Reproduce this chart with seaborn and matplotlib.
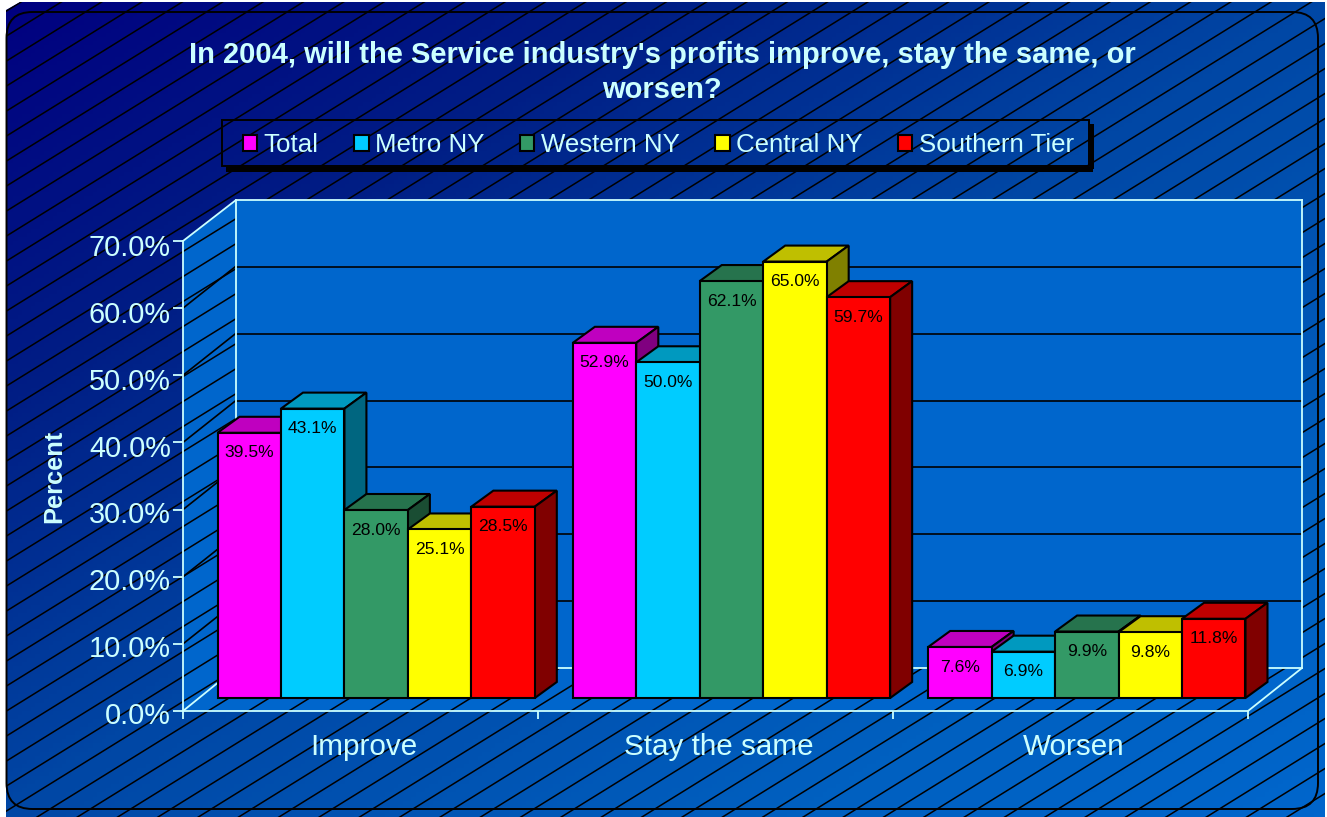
import numpy as np
import pandas as pd
import matplotlib
matplotlib.use('Agg')
import matplotlib.pyplot as plt
from matplotlib.colors import LinearSegmentedColormap, to_rgb
from matplotlib.patches import Patch, Polygon, Rectangle, PathPatch
from matplotlib.path import Path
from matplotlib.transforms import ScaledTranslation
import seaborn as sns

# chart values
categories = ['Improve', 'Stay the same', 'Worsen']
series_names = ['Total', 'Metro NY', 'Western NY', 'Central NY', 'Southern Tier']
total = [39.5, 52.9, 7.6]
metro_ny = [43.1, 50.0, 6.9]
western_ny = [28.0, 62.1, 9.9]
central_ny = [25.1, 65.0, 9.8]
southern_tier = [28.5, 59.7, 11.8]
colors = ['#FF00FF', '#00CCFF', '#339966', '#FFFF00', '#FF0000']
y_ticks = [0, 10, 20, 30, 40, 50, 60, 70]
title = "In 2004, will the Service industry's profits improve, stay the same, or\nworsen?"

W, H = 1327, 817
TEXT = '#CCFFFF'
WALL = '#0066CC'
EDGE = 1.5


def box(left, top, right, bottom):
    """Pixel box (from the top left corner) to figure fractions."""
    return [left / W, 1 - bottom / H, (right - left) / W, (bottom - top) / H]


def shade(color, factor):
    return tuple(c * factor for c in to_rgb(color))


def draw_background(fig):
    ax = fig.add_axes([0, 0, 1, 1], zorder=0)
    ax.set_xlim(0, W)
    ax.set_ylim(H, 0)
    ax.axis('off')

    # diagonal gradient, cut at the top left corner
    cmap = LinearSegmentedColormap.from_list(
        'bg', [(0, '#000080'), (0.25, '#001E85'), (0.5, '#0047A5'), (0.8, '#0060C0'), (1, '#0066CC')])
    xx, yy = np.meshgrid(np.linspace(0, 1, 300), np.linspace(0, 1, 200))
    img = ax.imshow(0.5 * xx + 0.5 * yy, cmap=cmap, extent=(0, W, H, 0), aspect='auto', vmin=0, vmax=1)
    clip = Polygon([(6, 10), (20, 2), (1325, 2), (1325, H), (6, H)], transform=ax.transData)
    img.set_clip_path(clip)

    # hatch lines
    for start in np.arange(-10, H + W * 0.62, 25):
        line, = ax.plot([0, W], [start, start - W * 0.62], color='black', lw=1.1)
        line.set_clip_path(clip)

    # rounded border
    l, t, r, b, k = 6.5, 12, 1318, 809, 26
    verts = [(l + k, t), (r - k, t), (r, t), (r, t + k), (r, b - k), (r, b), (r - k, b),
             (l + k, b), (l, b), (l, b - k), (l, t + k), (l, t), (l + k, t)]
    codes = [Path.MOVETO, Path.LINETO, Path.CURVE3, Path.CURVE3, Path.LINETO, Path.CURVE3, Path.CURVE3,
             Path.LINETO, Path.CURVE3, Path.CURVE3, Path.LINETO, Path.CURVE3, Path.CURVE3]
    ax.add_patch(PathPatch(Path(verts, codes), fc='none', ec='black', lw=1.4))

    # side wall and floor of the 3d box
    ax.add_patch(Polygon([(183, 241), (236, 200), (236, 668), (183, 711)], fc=WALL, ec='none'))
    ax.add_patch(Polygon([(183, 711), (236, 668), (1302, 668), (1248, 711)], fc=WALL, ec='none'))
    for v in y_ticks[1:-1]:
        y0 = 711 - v * 470 / 70
        ax.plot([183, 236], [y0, y0 - 42], color='black', lw=1.2)
    ax.plot([183, 236], [241, 200], color=TEXT, lw=1.3)
    ax.plot([183, 236], [711, 668], color=TEXT, lw=1.3)
    ax.plot([1248, 1302], [711, 668], color=TEXT, lw=1.3)

    # legend frame and its shadow
    ax.add_patch(Rectangle((222, 120), 867, 46, fc='none', ec='black', lw=1.4))
    ax.add_patch(Rectangle((226, 166.5), 867, 5, fc='black', ec='none'))
    ax.add_patch(Rectangle((1089.5, 124), 4, 45, fc='black', ec='none'))


def draw_back_wall(fig):
    ax = fig.add_axes(box(236, 200, 1302, 668), zorder=1, facecolor=WALL)
    ax.set_xlim(0, 1)
    ax.set_ylim(0, 70)
    ax.set_xticks([])
    ax.set_yticks(y_ticks[1:-1])
    ax.tick_params(left=False, labelleft=False)
    ax.grid(True, axis='y', color='black', lw=1.2)
    for spine in ax.spines.values():
        spine.set_color(TEXT)
        spine.set_linewidth(1.3)


def draw_front_axis(fig):
    ax = fig.add_axes(box(183, 241, 1248, 711), zorder=2, facecolor='none')
    ax.set_xlim(0, 3)
    ax.set_ylim(0, 70)
    sns.despine(ax=ax)
    for name in ['left', 'bottom']:
        ax.spines[name].set_color(TEXT)
        ax.spines[name].set_linewidth(1.3)
    ax.set_yticks(y_ticks)
    ax.set_yticklabels([f'{v:.1f}%' for v in y_ticks], fontsize=20.8, color=TEXT)
    ax.set_xticks(range(4))
    ax.set_xticklabels([])
    ax.set_xticks([i + 0.51 for i in range(3)], minor=True)
    ax.set_xticklabels(categories, minor=True, fontsize=21.3, color=TEXT)
    ax.tick_params(axis='y', which='major', left=True, direction='out', length=7, width=1.3, color=TEXT, pad=1.8)
    ax.tick_params(axis='x', which='major', bottom=True, direction='out', length=6, width=1.3, color=TEXT)
    ax.tick_params(axis='x', which='minor', bottom=False, length=0, pad=15.5)
    # the labels sit a little below their ticks, more so towards the top
    for v, label in zip(y_ticks, ax.get_yticklabels()):
        shift = ScaledTranslation(0, -(2 + 2 * v / 70) / 100, fig.dpi_scale_trans)
        label.set_transform(label.get_transform() + shift)
    ax.set_ylabel('Percent', fontsize=18.3, fontweight='bold', color=TEXT)
    ax.yaxis.set_label_coords(-(183 - 66) / 1065, 0.5)


def draw_bars(fig, df):
    # front plane of the bars, baseline at y=698
    ax = fig.add_axes(box(198.5, 228, 1264.5, 698), zorder=3, facecolor='none')
    sns.barplot(data=df, x='category', y='percent', hue='series', order=categories,
                hue_order=series_names, palette=colors, saturation=1, width=0.893, gap=0,
                edgecolor='black', linewidth=EDGE, legend=False, ax=ax)
    ax.set_xlim(-0.5, 2.5)
    ax.set_ylim(0, 70)
    ax.set_axis_off()

    dx = 22 / 355.5
    dy = 16 * 70 / 470
    bars = sorted([p for p in ax.patches if p.get_height() > 0], key=lambda p: p.get_x())
    for i, bar in enumerate(bars):
        x0, w, h = bar.get_x(), bar.get_width(), bar.get_height()
        x1 = x0 + w
        base = bar.get_facecolor()[:3]
        z = 3 + i
        bar.set_zorder(z)
        bar.set_clip_on(False)
        ax.add_patch(Polygon([(x0, h), (x0 + dx, h + dy), (x1 + dx, h + dy), (x1, h)],
                             fc=shade(base, 0.75), ec='black', lw=EDGE, zorder=z - 0.5, clip_on=False))
        ax.add_patch(Polygon([(x1, 0), (x1 + dx, dy), (x1 + dx, h + dy), (x1, h)],
                             fc=shade(base, 0.5), ec='black', lw=EDGE, zorder=z - 0.5, clip_on=False))
        ax.annotate(f'{h:.1f}%', (x0 + w / 2, h), xytext=(0, -14.5), textcoords='offset points',
                    ha='center', va='center', fontsize=12.6, color='black', zorder=100)


def main():
    sns.set_theme(style='white')
    plt.rcParams['font.family'] = ['Liberation Sans', 'DejaVu Sans']

    values = [total, metro_ny, western_ny, central_ny, southern_tier]
    df = pd.DataFrame([
        {'category': cat, 'series': name, 'percent': val}
        for name, vals in zip(series_names, values)
        for cat, val in zip(categories, vals)
    ])

    fig = plt.figure(figsize=(W / 100, H / 100), dpi=100, facecolor='white')
    draw_background(fig)
    draw_back_wall(fig)
    draw_front_axis(fig)
    draw_bars(fig, df)

    fig.text(662 / W, 1 - 72.5 / H, title, ha='center', va='center', fontsize=21, fontweight='bold',
             color=TEXT, linespacing=1.36, zorder=10)

    handles = [Patch(facecolor=c, edgecolor='black', linewidth=EDGE) for c in colors]
    fig.legend(handles, series_names, ncol=5, loc='center left', bbox_to_anchor=(243 / W, 1 - 145 / H),
               borderaxespad=0, borderpad=0, fontsize=18.6, labelcolor=TEXT, frameon=False,
               handlelength=0.55, handleheight=0.55, handletextpad=0.24, columnspacing=1.39)

    fig.savefig('out.png', dpi=100)
    plt.close(fig)


if __name__ == "__main__":
    main()
